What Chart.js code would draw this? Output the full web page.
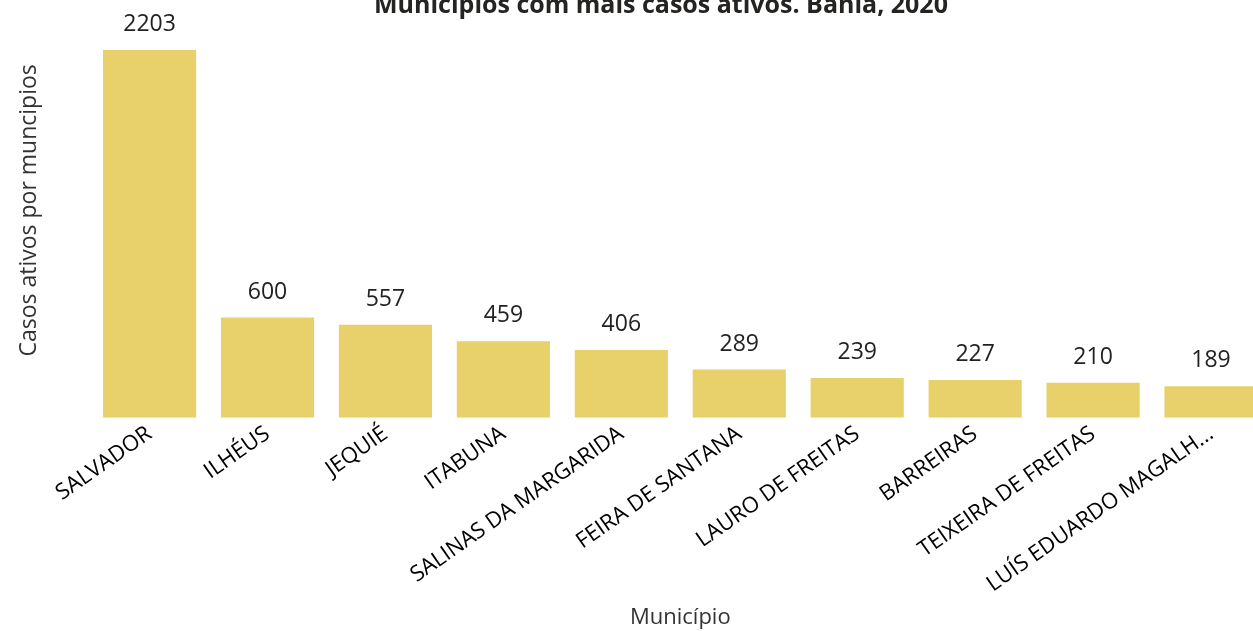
<!DOCTYPE html>
<html>
<head>
<meta charset="utf-8">
<script src="https://cdn.jsdelivr.net/npm/chart.js@4/dist/chart.umd.min.js"></script>
<style>
  html, body { margin: 0; padding: 0; background: #fff; overflow: hidden; width: 1253px; height: 631px; }
  #wrap { position: absolute; left: 0; top: -22px; width: 1322px; height: 657px; }
  #titulo {
    position: absolute; left: 0; top: -12px; width: 1322px;
    text-align: center; font: bold 25px/30px "Open Sans", sans-serif; color: #252423;
  }
</style>
</head>
<body>
<div id="wrap"><canvas id="chart"></canvas></div>
<div id="titulo">Municípios com mais casos ativos. Bahia, 2020</div>
<script>
const municipios = ['SALVADOR', 'ILHÉUS', 'JEQUIÉ', 'ITABUNA', 'SALINAS DA MARGARIDA',
  'FEIRA DE SANTANA', 'LAURO DE FREITAS', 'BARREIRAS', 'TEIXEIRA DE FREITAS', 'LUÍS EDUARDO MAGALH...'];
const casosAtivos = [2203, 600, 557, 459, 406, 289, 239, 227, 210, 189];

const font = '"Open Sans", "Noto Sans", sans-serif';

// escreve o valor em cima de cada barra
const valueLabels = {
  id: 'valueLabels',
  afterDatasetsDraw(chart) {
    const ctx = chart.ctx;
    const meta = chart.getDatasetMeta(0);
    ctx.save();
    ctx.font = '23px ' + font;
    ctx.fillStyle = '#222';
    ctx.textAlign = 'center';
    ctx.textBaseline = 'alphabetic';
    meta.data.forEach((bar, i) => {
      ctx.fillText(casosAtivos[i], bar.x, bar.y - 19);
    });
    ctx.restore();
  }
};

new Chart(document.getElementById('chart'), {
  type: 'bar',
  data: {
    labels: municipios,
    datasets: [{
      data: casosAtivos,
      backgroundColor: '#E8D16A',
      barPercentage: 0.79,
      categoryPercentage: 1
    }]
  },
  options: {
    responsive: true,
    maintainAspectRatio: false,
    animation: false,
    layout: { padding: { top: 25, right: 52, bottom: 4 } },
    plugins: {
      legend: { display: false },
      tooltip: { enabled: false },
      title: { display: false }
    },
    scales: {
      x: {
        grid: { display: false, drawTicks: false },
        border: { display: false },
        ticks: {
          color: '#000',
          font: { family: font, size: 22 },
          minRotation: 35,
          maxRotation: 35,
          padding: 3
        },
        title: {
          display: true,
          text: 'Município',
          color: '#333',
          font: { family: font, size: 22 },
          padding: { top: 4, bottom: 0 }
        }
      },
      y: {
        min: 0,
        max: 2485,
        grid: { display: false, drawTicks: false },
        border: { display: false },
        ticks: { display: false },
        title: {
          display: true,
          text: 'Casos ativos por muncipios',
          color: '#333',
          font: { family: font, size: 23 },
          padding: { top: 16, bottom: 47 }
        }
      }
    }
  },
  plugins: [valueLabels]
});
</script>
</body>
</html>
